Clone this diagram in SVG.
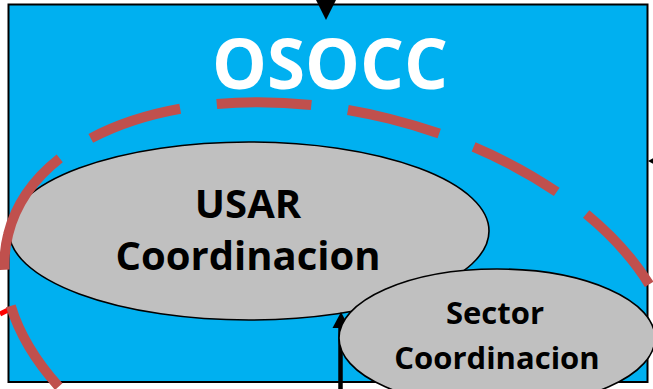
<svg xmlns="http://www.w3.org/2000/svg" width="653" height="389" viewBox="0 0 653 389">
<style>
.lbl{font-family:"Open Sans","Noto Sans","Liberation Sans",sans-serif;font-weight:bold;text-anchor:middle;fill:#000}
.node{fill:#C0C0C0;stroke:#000;stroke-width:1.6}
.conn{stroke:#000;fill:none}
</style>
<rect width="653" height="389" fill="#fff"/>
<g id="osocc">
<rect x="8.5" y="4.5" width="639" height="377.5" fill="#00B0F0" stroke="#000" stroke-width="2"/>
<text class="lbl" x="330" y="89" font-size="69" style="fill:#fff">OSOCC</text>
</g>
<g id="usar">
<ellipse class="node" cx="249" cy="231" rx="240" ry="89"/>
<text class="lbl" x="248" y="218" font-size="40">USAR</text>
<text class="lbl" x="248" y="270" font-size="40">Coordinacion</text>
</g>
<g id="connectors">
<line x1="0" y1="314" x2="9" y2="309.5" stroke="#FF0000" stroke-width="5"/>
<polygon points="316,0 336,0 326,20" fill="#000"/>
<polygon points="648,161 653,158.3 653,163.7" fill="#000"/>
<line class="conn" x1="340.5" y1="389" x2="340.5" y2="326" stroke-width="4.5"/>
<polygon points="341,312 332.5,328 349.5,328" fill="#000"/>
</g>
<g id="boundary">
<path d="M 8.16 234.26 A 342 204 14 1 1 671.84 399.74 A 342 204 14 1 1 8.16 234.26" pathLength="1751" fill="none" stroke="#C0504D" stroke-width="10" stroke-dasharray="95 37" stroke-dashoffset="1"/>
</g>
<g id="sector">
<ellipse class="node" cx="497" cy="338" rx="158" ry="69"/>
<text class="lbl" x="495" y="324" font-size="31">Sector</text>
<text class="lbl" x="497" y="369" font-size="31">Coordinacion</text>
</g>
</svg>
